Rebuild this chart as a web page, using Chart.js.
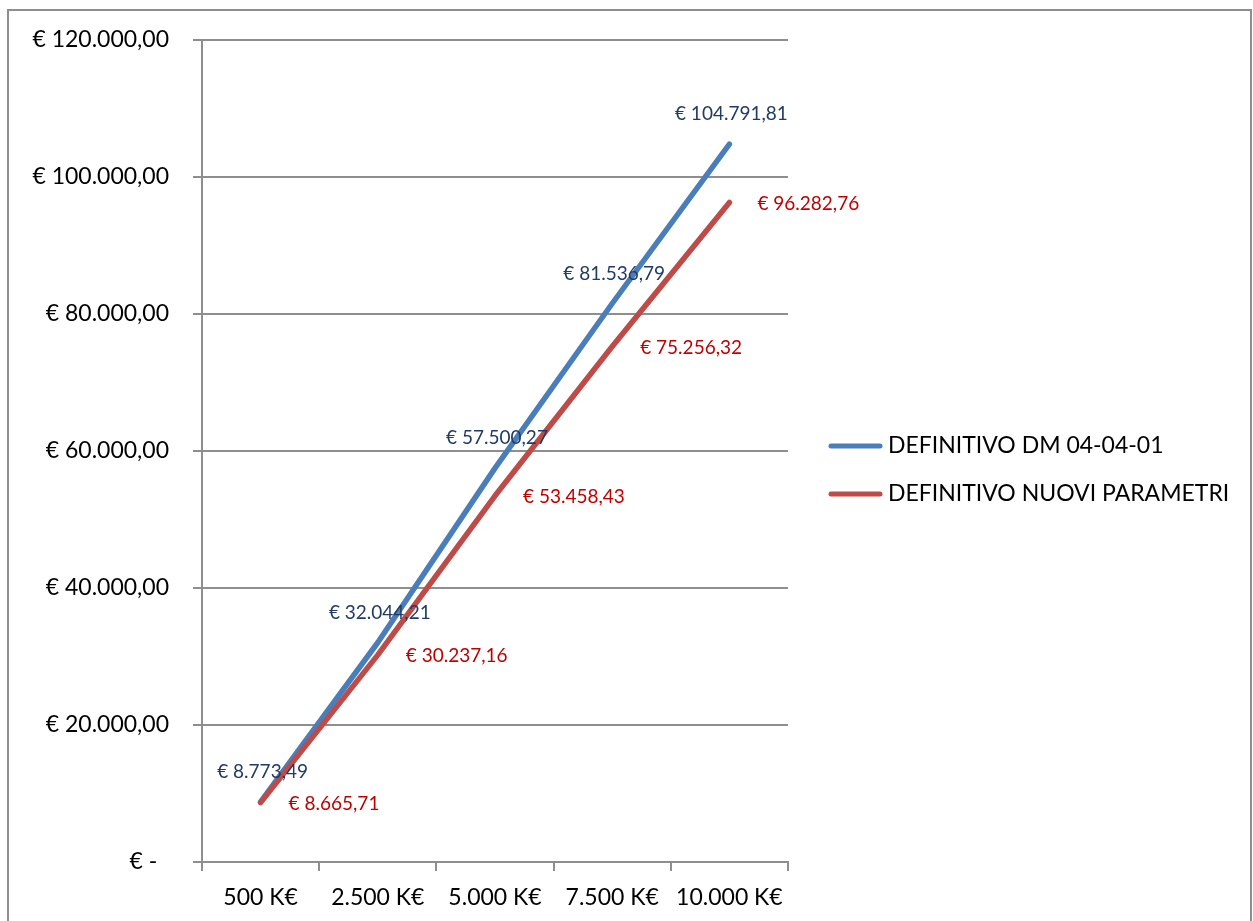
<!DOCTYPE html>
<html>
<head>
<meta charset="utf-8">
<script src="https://cdn.jsdelivr.net/npm/chart.js@4.4.1/dist/chart.umd.min.js"></script>
<style>
  html, body { margin: 0; padding: 0; background: #fff; overflow: hidden; }
  canvas { display: block; }
</style>
</head>
<body>
<canvas id="costChart" width="1253" height="921"></canvas>
<script>
// chart data
const categories = ['500 K€', '2.500 K€', '5.000 K€', '7.500 K€', '10.000 K€'];
const seriesNames = ['DEFINITIVO DM 04-04-01', 'DEFINITIVO NUOVI PARAMETRI'];
const dmValues = [8773.49, 32044.21, 57500.27, 81536.79, 104791.81];
const nuoviValues = [8665.71, 30237.16, 53458.43, 75256.32, 96282.76];
const yTicks = [0, 20000, 40000, 60000, 80000, 100000, 120000];

const FONT = 'Lato';
const lineColors = ['#4a7ebb', '#be4b48'];
const labelColors = ['#1f3b66', '#c00000'];
const gridColor = '#8e8e8e';

// Italian style number: 104791.81 -> 104.791,81
function euro(v) {
    if (v === 0) return '€ -  ';
    const parts = v.toFixed(2).split('.');
    const intPart = parts[0].replace(/\B(?=(\d{3})+(?!\d))/g, '.');
    return '€ ' + intPart + ',' + parts[1];
}

const framePlugin = {
    id: 'frame',
    beforeDraw(chart) {
        const ctx = chart.ctx;
        ctx.save();
        ctx.fillStyle = '#fff';
        ctx.fillRect(0, 0, chart.width, chart.height);
        ctx.strokeStyle = gridColor;
        ctx.lineWidth = 2;
        ctx.strokeRect(8, 10, 1243, 940);
        ctx.restore();
    }
};

// data labels: first series above the point, second series to the right
const labelPlugin = {
    id: 'pointLabels',
    afterDatasetsDraw(chart) {
        const ctx = chart.ctx;
        ctx.save();
        ctx.font = '19px ' + FONT;
        ctx.textBaseline = 'middle';
        chart.data.datasets.forEach((ds, i) => {
            const meta = chart.getDatasetMeta(i);
            meta.data.forEach((pt, j) => {
                ctx.fillStyle = labelColors[i];
                if (i === 0) {
                    ctx.textAlign = 'center';
                    ctx.fillText(euro(ds.data[j]), pt.x + 2, pt.y - 30);
                } else {
                    ctx.textAlign = 'left';
                    ctx.fillText(euro(ds.data[j]), pt.x + 28, pt.y + 1);
                }
            });
        });
        ctx.restore();
    }
};

const legendPlugin = {
    id: 'sideLegend',
    afterDraw(chart) {
        const ctx = chart.ctx;
        ctx.save();
        ctx.font = '23px ' + FONT;
        ctx.textBaseline = 'middle';
        ctx.textAlign = 'left';
        chart.data.datasets.forEach((ds, i) => {
            const y = 446 + i * 48;
            ctx.strokeStyle = ds.borderColor;
            ctx.lineWidth = 5;
            ctx.lineCap = 'round';
            ctx.beginPath();
            ctx.moveTo(831, y);
            ctx.lineTo(880, y);
            ctx.stroke();
            ctx.fillStyle = '#000';
            ctx.fillText(ds.label, 888, y);
        });
        ctx.restore();
    }
};

new Chart(document.getElementById('costChart').getContext('2d'), {
    type: 'line',
    data: {
        labels: categories,
        datasets: [
            { label: seriesNames[0], data: dmValues, borderColor: lineColors[0], backgroundColor: lineColors[0], order: 1 },
            { label: seriesNames[1], data: nuoviValues, borderColor: lineColors[1], backgroundColor: lineColors[1], order: 0 }
        ]
    },
    options: {
        responsive: false,
        animation: false,
        layout: { padding: { left: 0, top: 40, right: 465, bottom: 0 } },
        elements: {
            line: { borderWidth: 5.5, tension: 0, borderCapStyle: 'round', borderJoinStyle: 'round', fill: false },
            point: { radius: 0, hoverRadius: 0 }
        },
        plugins: {
            legend: { display: false },
            tooltip: { enabled: false }
        },
        scales: {
            x: {
                type: 'category',
                offset: true,
                grid: { offset: true, drawOnChartArea: false, tickLength: 9, color: gridColor, lineWidth: 2 },
                border: { display: true, color: gridColor, width: 2 },
                ticks: { font: { family: FONT, size: 23 }, color: '#000', padding: 13, maxRotation: 0 },
                afterFit(scale) { scale.height = 59; }
            },
            y: {
                min: yTicks[0],
                max: yTicks[yTicks.length - 1],
                afterBuildTicks(scale) { scale.ticks = yTicks.map(v => ({ value: v })); },
                grid: { tickLength: 9, color: gridColor, lineWidth: 2 },
                border: { display: true, color: gridColor, width: 2 },
                ticks: { font: { family: FONT, size: 23 }, color: '#000', padding: 24, callback: v => euro(v) },
                afterFit(scale) { scale.width = 202; }
            }
        }
    },
    plugins: [framePlugin, labelPlugin, legendPlugin]
});
</script>
</body>
</html>
